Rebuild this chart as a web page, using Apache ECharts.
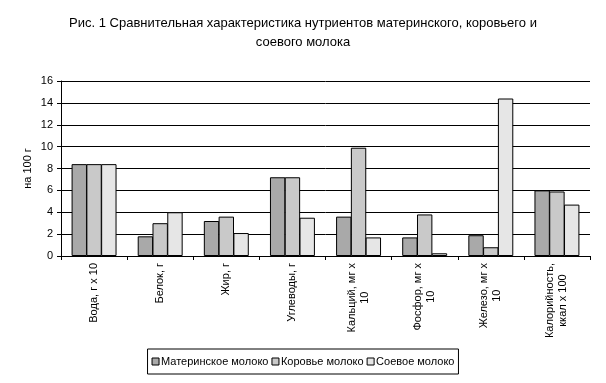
<!DOCTYPE html>
<html><head><meta charset="utf-8">
<script src="https://cdn.jsdelivr.net/npm/echarts@6/dist/echarts.min.js"></script>
<style>html,body{margin:0;padding:0;background:#fff}#c{width:606px;height:383px}</style>
</head><body><div id="c"></div>
<script>
const categories = ['Вода, г х 10','Белок, г','Жир, г','Углеводы, г','Кальций, мг х\n10','Фосфор, мг х\n10','Железо, мг х\n10','Калорийность,\nккал х 100'];
const seriesNames = ['Материнское молоко','Коровье молоко','Соевое молоко'];
const motherMilk = [8.4, 1.8, 3.2, 7.2, 3.6, 1.7, 1.9, 6.0];
const cowMilk    = [8.4, 3.0, 3.6, 7.2, 9.9, 3.8, 0.8, 5.9];
const soyMilk    = [8.4, 4.0, 2.1, 3.5, 1.7, 0.25, 14.4, 4.7];
const yTicks = [0, 2, 4, 6, 8, 10, 12, 14, 16];
const titleText = 'Рис. 1 Сравнительная характеристика нутриентов материнского, коровьего и\nсоевого молока';
const yName = 'на 100 г';

const colors = ['#a9a9a9', '#c9c9c9', '#e6e6e6'];
const font = 'Liberation Sans, Arial, sans-serif';
const chart = echarts.init(document.getElementById('c'), null, {renderer: 'canvas'});
const values = [motherMilk, cowMilk, soyMilk];
chart.setOption({
  backgroundColor: '#ffffff',
  animation: false,
  title: {
    text: titleText, left: 'center', top: 9,
    textStyle: {fontFamily: font, fontSize: 13, fontWeight: 'normal', color: '#000', lineHeight: 19}
  },
  legend: {
    bottom: 9, left: 'center', icon: 'rect',
    itemWidth: 7, itemHeight: 7, itemGap: 3,
    borderColor: '#000', borderWidth: 1, padding: [7, 4, 7, 4],
    itemStyle: {borderColor: '#000', borderWidth: 1},
    textStyle: {fontFamily: font, fontSize: 11, color: '#000', padding: [0, 0, 0, -3]},
    data: seriesNames
  },
  grid: {left: 61, right: 16, top: 81, bottom: 127, containLabel: false},
  xAxis: {
    type: 'category', data: categories,
    axisLine: {lineStyle: {color: '#000', width: 1}},
    axisTick: {show: true, alignWithLabel: false, length: 4, lineStyle: {color: '#000'}},
    axisLabel: {
      interval: 0, rotate: 90, margin: 7, color: '#000',
      fontFamily: font, fontSize: 11,
      formatter: function (v) { return v.split('\n').map(s => '{a|' + s + '}').join('\n'); },
      rich: {a: {align: 'center', fontFamily: font, fontSize: 11, color: '#000', lineHeight: 13}}
    }
  },
  yAxis: {
    type: 'value', min: yTicks[0], max: yTicks[yTicks.length - 1], interval: 2,
    name: yName, nameLocation: 'middle', nameGap: 28, nameRotate: 90, nameMoveOverlap: false,
    nameTextStyle: {fontFamily: font, fontSize: 11, color: '#000'},
    axisLine: {show: true, lineStyle: {color: '#000', width: 1}},
    axisTick: {show: true, length: 4, lineStyle: {color: '#000'}},
    axisLabel: {margin: 8, color: '#000', fontFamily: font, fontSize: 11},
    splitLine: {show: true, lineStyle: {color: '#000', width: 1}}
  },
  series: seriesNames.map((n, i) => ({
    name: n, type: 'bar', data: values[i],
    barGap: '-4%', barCategoryGap: '32%',
    itemStyle: {color: colors[i], borderColor: '#000', borderWidth: 1}
  }))
});
</script></body></html>
